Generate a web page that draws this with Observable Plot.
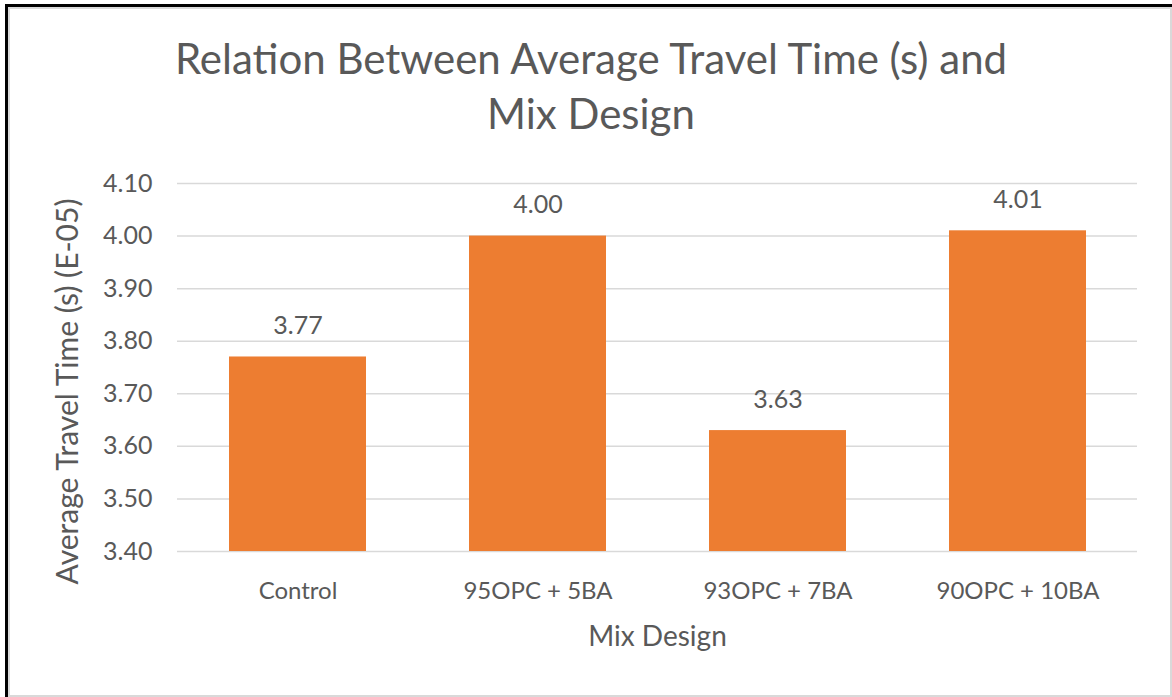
<!DOCTYPE html>
<html>
<head>
<meta charset="utf-8">
<script src="https://cdn.jsdelivr.net/npm/d3@7"></script>
<script src="https://cdn.jsdelivr.net/npm/@observablehq/plot@0.6"></script>
<style>
  html, body { margin: 0; padding: 0; background: #fff; }
  #wrap { position: relative; width: 1172px; height: 697px; overflow: hidden; font-family: Lato, "Noto Sans", sans-serif; }
  #frame { position: absolute; left: 5px; top: 4px; width: 1167px; height: 693px; box-sizing: border-box;
           border-top: 3px solid #000; border-left: 3px solid #000; }
  #inner { position: absolute; left: 0; top: 0; right: 0; bottom: 0; border: 2px solid #d9d9d9; box-sizing: border-box; }
  #title { position: relative; width: 1172px; height: 170px; box-sizing: border-box; padding-top: 31px;
           text-align: center; font-size: 42px; line-height: 55px; color: #595959; padding-left: 10px; }
  #chart { position: relative; }
  #chart svg { display: block; }
</style>
</head>
<body>
<div id="wrap">
  <div id="frame"><div id="inner"></div></div>
  <div id="title">Relation Between Average Travel Time (s) and<br>Mix Design</div>
  <div id="chart"></div>
</div>
<script>
const categories = ["Control", "95OPC + 5BA", "93OPC + 7BA", "90OPC + 10BA"];
const values = [3.77, 4.00, 3.63, 4.01];
const yTicks = [3.40, 3.50, 3.60, 3.70, 3.80, 3.90, 4.00, 4.10];
const yLabel = "Average Travel Time (s) (E-05)";
const xLabel = "Mix Design";

const data = categories.map((c, i) => ({category: c, value: values[i]}));
const yMin = yTicks[0];
const yMax = yTicks[yTicks.length - 1];
const textColor = "#595959";

const chart = Plot.plot({
  width: 1172,
  height: 527,
  marginTop: 13,
  marginBottom: 146,
  marginLeft: 177,
  marginRight: 35,
  style: {fontFamily: "Lato, 'Noto Sans', sans-serif", fontSize: "24px", color: textColor, background: "transparent", overflow: "visible"},
  x: {domain: categories, paddingInner: 0.43, paddingOuter: 0.215, label: null},
  y: {domain: [yMin, yMax], label: null},
  marks: [
    Plot.ruleY(yTicks, {stroke: "#d9d9d9", strokeWidth: 1.5}),
    Plot.barY(data, {x: "category", y1: () => yMin, y2: "value", fill: "#ED7D31"}),
    Plot.text(data, {x: "category", y: "value", text: d => d.value.toFixed(2), dy: -31, lineAnchor: "middle", fill: textColor, fontSize: 25}),
    Plot.axisY(yTicks, {tickSize: 0, tickPadding: 25, tickFormat: d => d.toFixed(2), fontSize: 25, fill: textColor, label: null}),
    Plot.axisX({tickSize: 0, tickPadding: 30, fontSize: 24, fill: textColor, label: null}),
    Plot.text([xLabel], {frameAnchor: "bottom", dy: 86, lineAnchor: "middle", fill: textColor, fontSize: 28}),
    Plot.text([yLabel], {frameAnchor: "left", textAnchor: "middle", dx: -109, dy: 24, rotate: -90, lineAnchor: "middle", fill: textColor, fontSize: 30})
  ]
});
document.getElementById("chart").appendChild(chart);
</script>
</body>
</html>
